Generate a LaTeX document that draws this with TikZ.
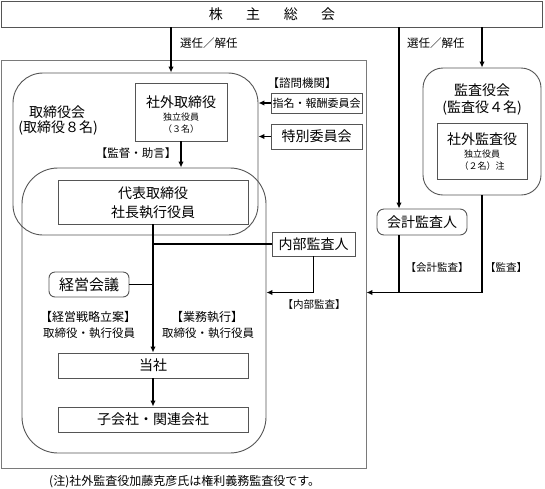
\documentclass[tikz,border=0pt]{standalone}
\usepackage{fontspec}
\setmainfont{Noto Sans CJK JP}
\usetikzlibrary{arrows.meta}
\definecolor{boxgray}{HTML}{555555}
\definecolor{outgray}{HTML}{7A7A7A}
\begin{document}
\begin{tikzpicture}[x=1pt,y=-1pt,
  bx/.style={draw=boxgray,line width=0.9pt,inner sep=0pt,align=center},
  rbx/.style={bx,rounded corners=#1},
  fmain/.style={font=\fontsize{14}{17}\selectfont},
  flab/.style={font=\fontsize{11.5}{14}\selectfont},
  fsmall/.style={font=\fontsize{9}{11}\selectfont},
  conn/.style={line width=1.5pt,black},
  arr/.style={conn,-{Latex[length=6pt,width=5.5pt]}},
  txt/.style={inner sep=0pt}]
\useasboundingbox (0,0) rectangle (545,488);
\fill[white] (0,0) rectangle (545,488);

\node[bx,minimum width=541,minimum height=26,fmain] (sh) at (272,14) {株\hspace{23.5pt}主\hspace{23.5pt}総\hspace{23.5pt}会};

\node[bx,draw=outgray,minimum width=365,minimum height=408] (outer) at (183.5,264) {};
\node[rbx=30pt,minimum width=245,minimum height=162] (board) at (135.5,154) {};
\node[rbx=36pt,minimum width=244,minimum height=285] (exec) at (144,310.5) {};

\node[bx,minimum width=92,minimum height=58] (gaitori) at (181,112) {};
\node[txt,fmain] (gaitoriT) at (181,102) {社外取締役};
\node[txt,fsmall] (gaitoriD) at (181,117) {独立役員};
\node[txt,fsmall] (gaitoriN) at (181,129) {（３名）};

\node[txt,fmain] (boardT) at (57,112) {取締役会};
\node[txt,fmain] (boardN) at (58,128) {(取締役８名)};

\node[txt,flab] (shimon) at (302,83) {【諮問機関】};
\node[bx,minimum width=91,minimum height=20,font=\fontsize{11}{13}\selectfont] (shimei) at (316.5,103) {指名・報酬委員会};
\node[bx,minimum width=91,minimum height=25,fmain] (tokubetsu) at (316.5,136.5) {特別委員会};

\node[bx,minimum width=190,minimum height=44] (daihyo) at (153,202) {};
\node[txt,fmain] (daihyoA) at (153,193) {代表取締役};
\node[txt,fmain] (daihyoB) at (153,212) {社長執行役員};

\node[rbx=6pt,minimum width=80,minimum height=25,font=\fontsize{15}{17}\selectfont] (keiei) at (89,284.5) {経営会議};
\node[bx,minimum width=190,minimum height=25,fmain] (tousha) at (153,365.5) {当社};
\node[bx,minimum width=190,minimum height=25,fmain] (kogaisha) at (153,419.5) {子会社・関連会社};

\node[rbx=20pt,minimum width=118,minimum height=127] (kansa) at (482,131.5) {};
\node[txt,fmain] (kansaT) at (482,90) {監査役会};
\node[txt,fmain] (kansaN) at (482,108) {(監査役４名)};
\node[bx,minimum width=90,minimum height=56] (skansa) at (482,151) {};
\node[txt,fmain] (skansaT) at (482,139) {社外監査役};
\node[txt,fsmall] (skansaD) at (482,154) {独立役員};
\node[txt,fsmall] (skansaN) at (482,166) {（２名）注};

\node[rbx=7pt,minimum width=90,minimum height=26,fmain] (kaikei) at (422,222) {会計監査人};
\node[bx,minimum width=83,minimum height=24,fmain] (naibu) at (313.5,244) {内部監査人};

\coordinate (xl) at (171,0);
\coordinate (xk) at (399,0);
\coordinate (yaud) at (0,292.5);

\draw[arr] (sh.south -| xl) -- (board.north -| xl);
\draw[arr] (sh.south -| xk) -- (kaikei.north -| xk);
\draw[arr] (sh.south -| kansa.north) -- (kansa.north);
\draw[arr] (shimei.west) -- (shimei.west -| board.east);
\draw[arr] (tokubetsu.west) -- (tokubetsu.west -| board.east);
\draw[arr] (gaitori.south) -- (gaitori.south |- exec.north);
\draw[arr] (daihyo.south) -- (tousha.north);
\draw[conn] (naibu.west) -- (naibu.west -| daihyo.south);
\draw[conn] (keiei.east) -- (keiei.east -| daihyo.south);
\draw[arr] (tousha.south) -- (kogaisha.north);
\draw[arr] (naibu.south) |- (exec.east |- yaud);
\draw[arr] (kansa.south) |- (outer.east |- yaud);
\draw[conn] (kaikei.south -| xk) -- (xk |- yaud);

\node[txt,flab,anchor=west] (sen1) at (180,43) {選任／解任};
\node[txt,flab,anchor=west] (sen2) at (407,43) {選任／解任};
\node[txt,flab] (kantoku) at (136,153) {【監督・助言】};
\node[txt,font=\fontsize{12}{14}\selectfont] (senryaku) at (88,317) {【経営戦略立案】};
\node[txt,flab] (yakuin1) at (89,333) {取締役・執行役員};
\node[txt,font=\fontsize{12}{14}\selectfont] (gyomu) at (207,317) {【業務執行】};
\node[txt,flab] (yakuin2) at (208,333) {取締役・執行役員};
\node[txt,font=\fontsize{10.5}{13}\selectfont] (kaikeiL) at (437,268) {【会計監査】};
\node[txt,font=\fontsize{10.5}{13}\selectfont] (kansaL) at (506,268) {【監査】};
\node[txt,font=\fontsize{10.5}{13}\selectfont] (naibuL) at (314,305) {【内部監査】};
\node[txt,font=\fontsize{12}{14}\selectfont,anchor=west] (note) at (49,482) {(注)社外監査役加藤克彦氏は権利義務監査役です。};
\end{tikzpicture}
\end{document}
